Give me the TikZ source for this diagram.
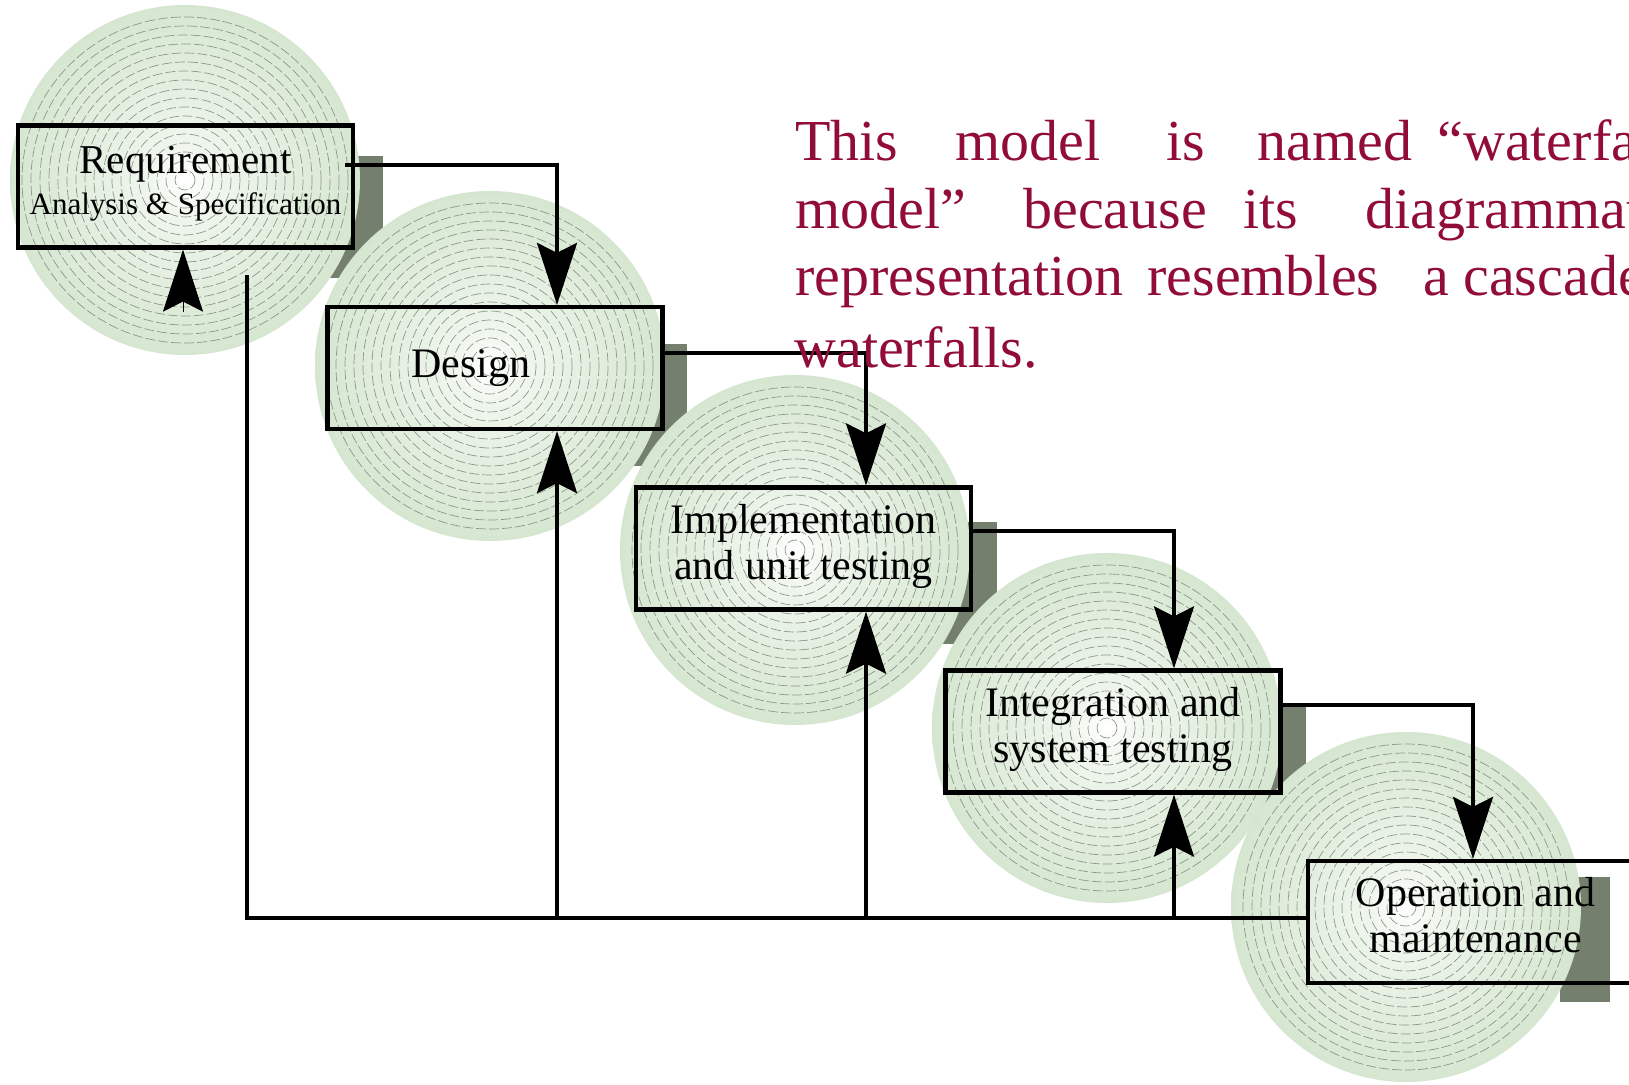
\documentclass[tikz,border=0pt]{standalone}
\usepackage{fontspec}
\setmainfont{Liberation Serif}
\usetikzlibrary{arrows.meta}

\definecolor{discedge}{RGB}{198,219,192}
\definecolor{discmid}{RGB}{215,231,210}
\definecolor{disclight}{RGB}{240,246,238}
\definecolor{ringgray}{RGB}{140,152,135}
\definecolor{shadowgray}{RGB}{117,127,110}
\definecolor{notered}{RGB}{146,12,58}

% soft green disc, white in the middle
\pgfdeclareradialshading{discshade}{\pgfpoint{0bp}{0bp}}{%
  color(0bp)=(white); color(5bp)=(disclight); color(24bp)=(discmid);
  color(33bp)=(discedge); color(50bp)=(discedge)}

% disc with concentric dashed rings
\newcommand\stagedisc[1]{%
  \shade[shading=discshade] (#1) circle[radius=175];
  \foreach \rr in {10,19,...,163} {\draw[ring] (#1) circle[radius=\rr];}%
}

% word placed at a fixed offset from the start of its line
\newcommand\wordat[2]{\makebox[0pt][l]{\hspace*{#1}#2}}

\tikzset{
  stagebox/.style={draw, line width=2.1pt, minimum width=167.5pt,
    minimum height=61pt, inner sep=0pt, align=center,
    font=\fontsize{21pt}{23pt}\selectfont,
    execute at begin node=\strut, execute at end node=\strut},
  ring/.style={draw=ringgray, line width=0.35pt, dash pattern=on 5pt off 1.5pt},
  shadowbox/.style={fill=shadowgray},
  flow/.style={line width=1.9pt},
  flowarrow/.style={flow, -{Stealth[length=31pt, width=20pt, inset=5pt]}},
  note/.style={text=notered, font=\fontsize{29pt}{35pt}\selectfont,
    inner sep=0pt, anchor=base west},
}

\begin{document}
\begin{tikzpicture}[x=0.5pt, y=-0.5pt]
  \useasboundingbox (0,0) rectangle (1629,1085);
  \clip (0,0) rectangle (1629,1085);
  \fill[white] (0,0) rectangle (1629,1085);

  % disc centres
  \coordinate (c1) at (185,180);
  \coordinate (c2) at (490,366);
  \coordinate (c3) at (795,550);
  \coordinate (c4) at (1107,728);
  \coordinate (c5) at (1406,907);

  % shadows sit behind their own disc, the next disc covers them
  \fill[shadowbox] (48,156.5) rectangle (383,278.5);
  \stagedisc{c1}
  \fill[shadowbox] (351.5,344) rectangle (686.5,466);
  \stagedisc{c2}
  \fill[shadowbox] (662,522.5) rectangle (997,644.5);
  \stagedisc{c3}
  \fill[shadowbox] (970.5,705.5) rectangle (1305.5,827.5);
  \stagedisc{c4}
  \fill[shadowbox] (1560,877) rectangle (1610,1002);
  \stagedisc{c5}

  % phases
  \node[stagebox, font=\fontsize{20.5pt}{20.5pt}\selectfont] (req) at (185.5,186.5)
    {Requirement\\{\fontsize{15.5pt}{20.5pt}\selectfont Analysis \& Specification}};
  \node[stagebox] (des) at (495,368) {Design\hspace*{24pt}};
  \node[stagebox] (imp) at (803.5,548.5) {Implementation\\and unit testing};
  \node[stagebox] (int) at (1113,731.5) {Integration and\\system testing};
  \node[stagebox] (ops) at (1475.5,922) {Operation and\\maintenance};

  % forward flow
  \draw[flowarrow] ([xshift=-5pt,yshift=10.75pt]req.east) -| ([xshift=31pt]des.north);
  \draw[flowarrow] ([yshift=7.5pt]des.east) -| ([xshift=31.25pt]imp.north);
  \draw[flowarrow] ([yshift=8.75pt]imp.east) -| ([xshift=30.5pt]int.north);
  \draw[flowarrow] ([yshift=13.25pt]int.east) -| ([xshift=-1.25pt]ops.north);

  % feedback paths
  \coordinate (fbcorner) at (247,918);
  \coordinate (fbend) at (247,275);
  \coordinate (dx) at ([xshift=31pt]des.south);
  \coordinate (ix) at ([xshift=31.25pt]imp.south);
  \coordinate (tx) at ([xshift=30.5pt]int.south);
  \coordinate (rx) at ([xshift=-1.25pt]req.south);
  \draw[flow] ([yshift=2pt]ops.west) -- (fbcorner) -- (fbend);
  \draw[flowarrow] (fbcorner -| dx) -- (dx);
  \draw[flowarrow] (fbcorner -| ix) -- (ix);
  \draw[flowarrow] (fbcorner -| tx) -- (tx);
  \draw[flowarrow, line width=0.5pt] ([yshift=-31pt]rx) -- (rx);

  % note
  \node[note] (l1) at (794,161)
    {\wordat{0pt}{This}\wordat{80pt}{model}\wordat{185.5pt}{is}\wordat{231pt}{named}\wordat{321pt}{``waterfall}};
  \node[note] (l2) at (794,229)
    {\wordat{0pt}{model''}\wordat{114pt}{because}\wordat{224pt}{its}\wordat{285pt}{diagrammatic}};
  \node[note] (l3) at (794,296)
    {\wordat{0pt}{representation}\wordat{176pt}{resembles}\wordat{314pt}{a}\wordat{334pt}{cascade}};
  \node[note] (l4) at (794,368) {waterfalls.};
\end{tikzpicture}
\end{document}
